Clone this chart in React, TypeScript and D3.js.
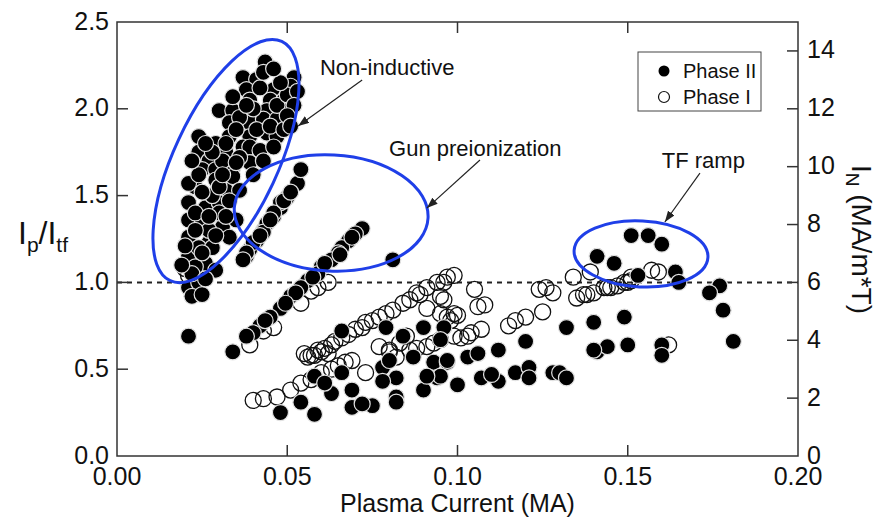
import * as d3 from "d3";

// Phase II (filled) — Plasma current (MA) vs Ip/Itf
const nonInductiveII: [number, number][] = [
  [0.0435, 2.27], [0.037, 2.18], [0.041, 2.17], [0.052, 2.18], [0.051, 2.13], [0.046, 2.11], [0.038, 2.11],
  [0.039, 2.05], [0.045, 2.05], [0.049, 2.05], [0.030, 1.99], [0.034, 1.99], [0.044, 1.99], [0.049, 1.99],
  [0.033, 1.92], [0.039, 1.92], [0.043, 1.94], [0.047, 1.94], [0.024, 1.84], [0.029, 1.80], [0.033, 1.84],
  [0.039, 1.84], [0.044, 1.86], [0.047, 1.84], [0.024, 1.75], [0.027, 1.70], [0.032, 1.75], [0.037, 1.78],
  [0.039, 1.78], [0.042, 1.76], [0.046, 1.78], [0.025, 1.65], [0.029, 1.65], [0.034, 1.66], [0.039, 1.69],
  [0.043, 1.70], [0.036, 1.95], [0.041, 1.88], [0.035, 1.88], [0.031, 1.70], [0.036, 1.72], [0.040, 1.62],
  [0.028, 1.75], [0.032, 1.80], [0.047, 2.02], [0.050, 2.08], [0.048, 2.15], [0.042, 2.12], [0.040, 2.00],
  [0.045, 1.90], [0.049, 1.88], [0.053, 2.10], [0.052, 2.02], [0.050, 1.96], [0.051, 1.90],
  [0.023, 1.55], [0.021, 1.57], [0.029, 1.59], [0.032, 1.53], [0.034, 1.61], [0.036, 1.53], [0.021, 1.46],
  [0.026, 1.43], [0.030, 1.46], [0.033, 1.47], [0.021, 1.36], [0.025, 1.34], [0.031, 1.32], [0.035, 1.36],
  [0.021, 1.26], [0.027, 1.23], [0.033, 1.26], [0.021, 1.15], [0.026, 1.11], [0.029, 1.07], [0.023, 1.09],
  [0.021, 0.97], [0.024, 1.00], [0.022, 0.92], [0.025, 0.93], [0.023, 1.40], [0.028, 1.50], [0.027, 1.30],
  [0.024, 1.20], [0.030, 1.40], [0.022, 1.05], [0.026, 1.02], [0.021, 0.69],
  [0.027, 1.38], [0.023, 1.30], [0.028, 1.20], [0.025, 1.52], [0.030, 1.55], [0.031, 1.62], [0.035, 1.69],
  [0.024, 1.62], [0.022, 1.70], [0.026, 1.80], [0.038, 2.02], [0.034, 2.07], [0.043, 2.21], [0.046, 2.23],
  [0.029, 1.27], [0.025, 1.17], [0.019, 1.10], [0.020, 1.21], [0.032, 1.38],
];

const gunII: [number, number][] = [
  [0.053, 1.57], [0.054, 1.65], [0.050, 1.49], [0.048, 1.43], [0.046, 1.38], [0.043, 1.30], [0.041, 1.24],
  [0.039, 1.19], [0.038, 1.15], [0.048, 1.46], [0.046, 1.40], [0.044, 1.34], [0.043, 1.29], [0.040, 1.23],
  [0.038, 1.17], [0.045, 1.36], [0.049, 1.47], [0.051, 1.52], [0.042, 1.27], [0.037, 1.13],
  [0.072, 1.31], [0.070, 1.28], [0.068, 1.24], [0.066, 1.20], [0.065, 1.17], [0.063, 1.13], [0.060, 1.09],
  [0.059, 1.05], [0.056, 1.01], [0.054, 0.97], [0.051, 0.92], [0.048, 0.85], [0.045, 0.80], [0.042, 0.75],
  [0.040, 0.71], [0.038, 0.69], [0.034, 0.60], [0.0655, 1.16], [0.081, 1.13], [0.0575, 1.03], [0.0525, 0.94],
  [0.0495, 0.88], [0.0435, 0.78], [0.069, 1.26], [0.061, 1.11],
];

const lowerII: [number, number][] = [
  [0.066, 0.72], [0.079, 0.74], [0.090, 0.74], [0.096, 0.74], [0.084, 0.69], [0.066, 0.48], [0.078, 0.51],
  [0.087, 0.57], [0.093, 0.54], [0.097, 0.54], [0.082, 0.45], [0.078, 0.43], [0.048, 0.25], [0.054, 0.31],
  [0.058, 0.24], [0.063, 0.36], [0.069, 0.38], [0.069, 0.28], [0.075, 0.29], [0.082, 0.34], [0.082, 0.31],
  [0.090, 0.38], [0.094, 0.45], [0.100, 0.41], [0.095, 0.67], [0.097, 0.55], [0.103, 0.57], [0.106, 0.59],
  [0.095, 0.46], [0.112, 0.61], [0.120, 0.66], [0.107, 0.45], [0.112, 0.43], [0.110, 0.47], [0.117, 0.48],
  [0.121, 0.51], [0.121, 0.45], [0.128, 0.48], [0.130, 0.48], [0.132, 0.45], [0.058, 0.46], [0.061, 0.42],
  [0.080, 0.55], [0.091, 0.46], [0.072, 0.30],
];

const tfRampII: [number, number][] = [
  [0.132, 0.74], [0.140, 0.77], [0.141, 0.60], [0.144, 0.63], [0.149, 0.80], [0.150, 0.64], [0.141, 1.15],
  [0.146, 1.11], [0.153, 1.04], [0.151, 1.27], [0.156, 1.27], [0.160, 1.22], [0.164, 1.06], [0.165, 1.00],
  [0.177, 0.98], [0.174, 0.94], [0.178, 0.84], [0.181, 0.66], [0.140, 0.61], [0.160, 0.64], [0.160, 0.58],
];

// Phase I (open)
const upperBandI: [number, number][] = [
  [0.056, 0.57], [0.055, 0.59], [0.059, 0.61], [0.063, 0.64], [0.066, 0.68], [0.070, 0.73], [0.073, 0.77],
  [0.077, 0.80], [0.081, 0.84], [0.084, 0.88], [0.088, 0.94], [0.091, 0.97], [0.094, 1.00], [0.097, 1.03],
  [0.099, 1.04], [0.091, 0.85], [0.095, 0.82], [0.097, 0.80], [0.080, 0.61], [0.083, 0.65], [0.085, 0.69],
  [0.099, 0.82], [0.058, 0.58], [0.061, 0.62], [0.064, 0.66], [0.068, 0.70], [0.072, 0.74], [0.075, 0.78],
  [0.079, 0.82], [0.086, 0.90], [0.089, 0.93], [0.057, 0.58], [0.060, 0.60], [0.062, 0.59],
  [0.039, 0.64], [0.054, 0.88], [0.046, 0.74], [0.059, 0.97], [0.043, 0.72], [0.057, 0.95], [0.062, 1.00],
  [0.020, 1.08], [0.021, 1.04], [0.022, 1.12],
];

const lowerBandI: [number, number][] = [
  [0.047, 0.34], [0.040, 0.32], [0.043, 0.33], [0.051, 0.38], [0.057, 0.44], [0.060, 0.48], [0.065, 0.52],
  [0.069, 0.55], [0.073, 0.48], [0.077, 0.63], [0.082, 0.57], [0.086, 0.61], [0.091, 0.63], [0.095, 0.67],
  [0.099, 0.69], [0.103, 0.69], [0.104, 0.71], [0.107, 0.73], [0.101, 0.68], [0.054, 0.42], [0.063, 0.50],
  [0.067, 0.54], [0.080, 0.60], [0.088, 0.62], [0.093, 0.65],
];

const rightI: [number, number][] = [
  [0.096, 1.00], [0.095, 0.92], [0.096, 0.90], [0.105, 0.96], [0.106, 0.86], [0.108, 0.87], [0.100, 0.81],
  [0.098, 0.78], [0.115, 0.75], [0.117, 0.78], [0.120, 0.80], [0.125, 0.83], [0.124, 0.96], [0.126, 0.97],
  [0.128, 0.94], [0.134, 1.03], [0.135, 0.91], [0.138, 0.93], [0.140, 0.94], [0.144, 0.97], [0.147, 0.98],
  [0.150, 1.00], [0.151, 1.03], [0.139, 1.06], [0.137, 0.93], [0.143, 0.97], [0.145, 0.97], [0.149, 1.00],
  [0.151, 1.01], [0.157, 1.07], [0.159, 1.06], [0.162, 0.64],
];

const xTicks = [0, 0.05, 0.1, 0.15, 0.2];
const yTicks = [0, 0.5, 1, 1.5, 2, 2.5];
const yRightTicks = [0, 2, 4, 6, 8, 10, 12, 14];

// annotation ellipses (centre in data units, radii in px, rotation deg)
const regions = [
  { cx: 0.032, cy: 1.699, rx: 132, ry: 52, rot: -65 },
  { cx: 0.0629, cy: 1.40, rx: 97, ry: 58, rot: 3 },
  { cx: 0.1539, cy: 1.164, rx: 67, ry: 33, rot: 3 },
];

const notes = [
  { label: "Non-inductive", tx: 0.0596, ty: 2.195, from: [0.072, 2.166], to: [0.0532, 1.901] },
  { label: "Gun preionization", tx: 0.0799, ty: 1.728, from: [0.1066, 1.705], to: [0.091, 1.428] },
  { label: "TF ramp", tx: 0.160, ty: 1.659, from: [0.1712, 1.63], to: [0.1609, 1.348] },
];

const FONT = "'Liberation Sans', Arial, Helvetica, sans-serif";
const BLUE = "#1f3fe8";

export default function App() {
  const x = d3.scaleLinear().domain([0, 0.2]).range([117, 798]);
  const y = d3.scaleLinear().domain([0, 2.5]).range([456, 22]);
  const yR = d3.scaleLinear().domain([0, 15]).range([456, 22]);
  const [x0, x1] = x.range();
  const [yb, yt] = y.range();
  const tick = 11;

  const filled = [...nonInductiveII, ...gunII, ...lowerII, ...tfRampII];
  const open = [...upperBandI, ...lowerBandI, ...rightI];

  return (
    <svg width={879} height={519} style={{ position: "absolute", left: 0, top: 0, background: "#fff" }} fontFamily={FONT}>
      <defs>
        <marker id="head" viewBox="0 0 11 8" refX="11" refY="4" markerWidth="11" markerHeight="8" orient="auto" markerUnits="userSpaceOnUse">
          <path d="M0,0 L11,4 L0,8 z" fill="#222" />
        </marker>
      </defs>

      {/* y = 1 reference */}
      <line x1={x0} x2={x1} y1={y(1)} y2={y(1)} stroke="#222" strokeWidth={2} strokeDasharray="5,5" />

      <g>
        {open.map((d, i) => (
          <circle key={"o" + i} cx={x(d[0])} cy={y(d[1])} r={8} fill="none" stroke="#111" strokeWidth={1.3} />
        ))}
      </g>
      <g>
        {filled.map((d, i) => (
          <circle key={"f" + i} cx={x(d[0])} cy={y(d[1])} r={8} fill="#000" stroke="#e2e2e2" strokeWidth={1.2} />
        ))}
      </g>

      {regions.map((e, i) => (
        <ellipse key={i} cx={x(e.cx)} cy={y(e.cy)} rx={e.rx} ry={e.ry} fill="none" stroke={BLUE} strokeWidth={3}
          transform={`rotate(${e.rot} ${x(e.cx)} ${y(e.cy)})`} />
      ))}

      {notes.map((n) => (
        <g key={n.label}>
          <text x={x(n.tx)} y={y(n.ty)} fontSize={22} fill="#111">{n.label}</text>
          <line x1={x(n.from[0])} y1={y(n.from[1])} x2={x(n.to[0])} y2={y(n.to[1])} stroke="#222" strokeWidth={1.2} markerEnd="url(#head)" />
        </g>
      ))}

      {/* frame */}
      <rect x={x0} y={yt} width={x1 - x0} height={yb - yt} fill="none" stroke="#333" strokeWidth={1.5} />

      {xTicks.slice(1, -1).map((t) => (
        <g key={"xt" + t}>
          <line x1={x(t)} x2={x(t)} y1={yb} y2={yb - tick} stroke="#333" strokeWidth={1.5} />
          <line x1={x(t)} x2={x(t)} y1={yt} y2={yt + tick} stroke="#333" strokeWidth={1.5} />
        </g>
      ))}
      {xTicks.map((t) => (
        <text key={"xl" + t} x={x(t)} y={yb + 29} fontSize={25} textAnchor="middle" fill="#111">{t.toFixed(2)}</text>
      ))}

      {yTicks.slice(1, -1).map((t) => (
        <line key={"yt" + t} x1={x0} x2={x0 + tick} y1={y(t)} y2={y(t)} stroke="#333" strokeWidth={1.5} />
      ))}
      {yTicks.map((t) => (
        <text key={"yl" + t} x={x0 - 8} y={y(t)} dy="0.3em" fontSize={25} textAnchor="end" fill="#111">{t.toFixed(1)}</text>
      ))}

      {yRightTicks.slice(1).map((t) => (
        <line key={"rt" + t} x1={x1} x2={x1 - tick} y1={yR(t)} y2={yR(t)} stroke="#333" strokeWidth={1.5} />
      ))}
      {yRightTicks.map((t) => (
        <text key={"rl" + t} x={x1 + 9} y={yR(t)} dy="0.3em" fontSize={25} textAnchor="start" fill="#111">{t}</text>
      ))}

      {/* axis titles */}
      <text x={(x0 + x1) / 2} y={512} fontSize={25} textAnchor="middle" fill="#111">Plasma Current (MA)</text>
      <text x={18} y={244} fontSize={32} fill="#111">
        I<tspan fontSize={21} dy={8}>p</tspan><tspan dy={-8}>/I</tspan><tspan fontSize={21} dy={8}>tf</tspan>
      </text>
      <text transform="translate(852,165) rotate(90)" fontSize={28} fill="#111">
        I<tspan fontSize={19} dy={6}>N</tspan><tspan dy={-6}> (MA/m*T)</tspan>
      </text>

      {/* legend */}
      <g>
        <rect x={638} y={52} width={123} height={59} fill="#fff" stroke="#444" strokeWidth={1} />
        <circle cx={664} cy={71} r={5.5} fill="#000" />
        <text x={683} y={71} dy="0.36em" fontSize={20} fill="#111">Phase II</text>
        <circle cx={664} cy={97} r={5.5} fill="none" stroke="#111" strokeWidth={1.2} />
        <text x={683} y={97} dy="0.36em" fontSize={20} fill="#111">Phase I</text>
      </g>
    </svg>
  );
}
